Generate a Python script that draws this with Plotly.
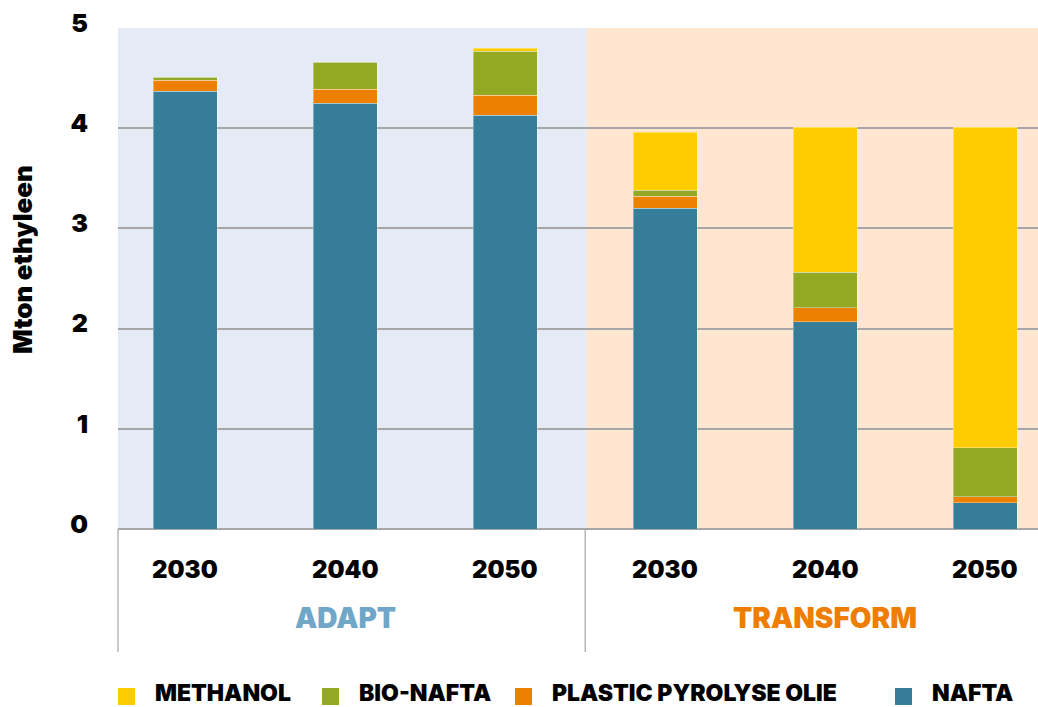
import plotly.graph_objects as go

categories = ["ADAPT 2030", "ADAPT 2040", "ADAPT 2050", "TRANSFORM 2030", "TRANSFORM 2040", "TRANSFORM 2050"]
years = ["2030", "2040", "2050", "2030", "2040", "2050"]
groups = ["ADAPT", "TRANSFORM"]

nafta = [4.37, 4.25, 4.13, 3.20, 2.07, 0.26]
pyrolyse = [0.11, 0.14, 0.20, 0.12, 0.14, 0.06]
bio_nafta = [0.03, 0.27, 0.44, 0.06, 0.35, 0.49]
methanol = [0.00, 0.00, 0.03, 0.58, 1.45, 3.20]

series = [
    ("NAFTA", nafta, "#367D99"),
    ("PLASTIC PYROLYSE OLIE", pyrolyse, "#EE8000"),
    ("BIO-NAFTA", bio_nafta, "#93A823"),
    ("METHANOL", methanol, "#FFCC00"),
]

FONT = "Inter, DejaVu Sans, sans-serif"
W, H_TOTAL = 1038, 707
L, T, B = 118, 28, 178
PW = W - L
PH = H_TOTAL - T - B  # 501


def px_x(px):
    return (px - L) / PW


def px_y(py):
    return (H_TOTAL - B - py) / PH


fig = go.Figure()
for name, vals, col in series:
    fig.add_trace(go.Bar(
        x=categories, y=vals, name=name, showlegend=False,
        marker=dict(color=col, line=dict(color="rgba(255,255,255,0.35)", width=1)),
        width=0.4,
    ))

# background regions
fig.add_shape(type="rect", xref="x", yref="y", x0=-0.5, x1=2.51, y0=0, y1=5,
              fillcolor="#E4EBF4", line_width=0, layer="below")
fig.add_shape(type="rect", xref="x", yref="y", x0=2.51, x1=5.6, y0=0, y1=5,
              fillcolor="#FEE6D1", line_width=0, layer="below")

# group divider lines below the axis
fig.add_shape(type="line", xref="paper", yref="paper", x0=0, x1=0, y0=0, y1=px_y(652),
              line=dict(color="#A6A6A6", width=1.2))
fig.add_shape(type="line", xref="x", yref="paper", x0=2.5, x1=2.5, y0=0, y1=px_y(652),
              line=dict(color="#A6A6A6", width=1.2))

annotations = []
for cat, yr in zip(categories, years):
    annotations.append(dict(x=cat, y=px_y(569), xref="x", yref="paper", text=yr,
                            showarrow=False, font=dict(family=FONT, size=24, color="black", weight=900),
                            xanchor="center", yanchor="middle"))
group_colors = ["#70A6C7", "#EF7D00"]
for g, idx, col in zip(groups, [1, 4], group_colors):
    annotations.append(dict(x=categories[idx], y=px_y(618), xref="x", yref="paper", text=g,
                            showarrow=False, font=dict(family=FONT, size=28, color=col, weight=900),
                            xanchor="center", yanchor="middle"))

# y axis title
annotations.append(dict(x=px_x(22), y=px_y(260), xref="paper", yref="paper", text="Mton ethyleen",
                        textangle=-90, showarrow=False,
                        font=dict(family=FONT, size=26, color="black", weight=900),
                        xanchor="center", yanchor="middle"))

# legend (manual, to match the reference spacing)
legend_items = [("METHANOL", "#FFCC00", 118), ("BIO-NAFTA", "#93A823", 322),
                ("PLASTIC PYROLYSE OLIE", "#EE8000", 515), ("NAFTA", "#367D99", 895)]
for name, col, sx in legend_items:
    fig.add_shape(type="rect", xref="paper", yref="paper",
                  x0=px_x(sx), x1=px_x(sx + 17), y0=px_y(705), y1=px_y(688),
                  fillcolor=col, line_width=0)
    annotations.append(dict(x=px_x(sx + 35), y=px_y(693), xref="paper", yref="paper", text=name,
                            showarrow=False, font=dict(family=FONT, size=23, color="black", weight=900),
                            xanchor="left", yanchor="middle"))

fig.update_layout(
    width=W, height=H_TOTAL,
    margin=dict(l=L, r=0, t=T, b=B, autoexpand=False),
    barmode="stack",
    plot_bgcolor="white", paper_bgcolor="white",
    showlegend=False,
    xaxis=dict(type="category", categoryorder="array", categoryarray=categories,
               range=[-0.42, 5.33], showticklabels=False, showgrid=False,
               showline=False, zeroline=False, ticks=""),
    yaxis=dict(range=[0, 5], dtick=1, showgrid=True, gridcolor="#A6A6A6", gridwidth=1.5,
               zeroline=True, zerolinecolor="#A6A6A6", zerolinewidth=1.5,
               showline=False, ticks="", ticklabelstandoff=29, ticklabelshift=-5,
               tickfont=dict(family=FONT, size=25, color="black", weight=900)),
    annotations=annotations,
)

fig.write_html("out.html")
